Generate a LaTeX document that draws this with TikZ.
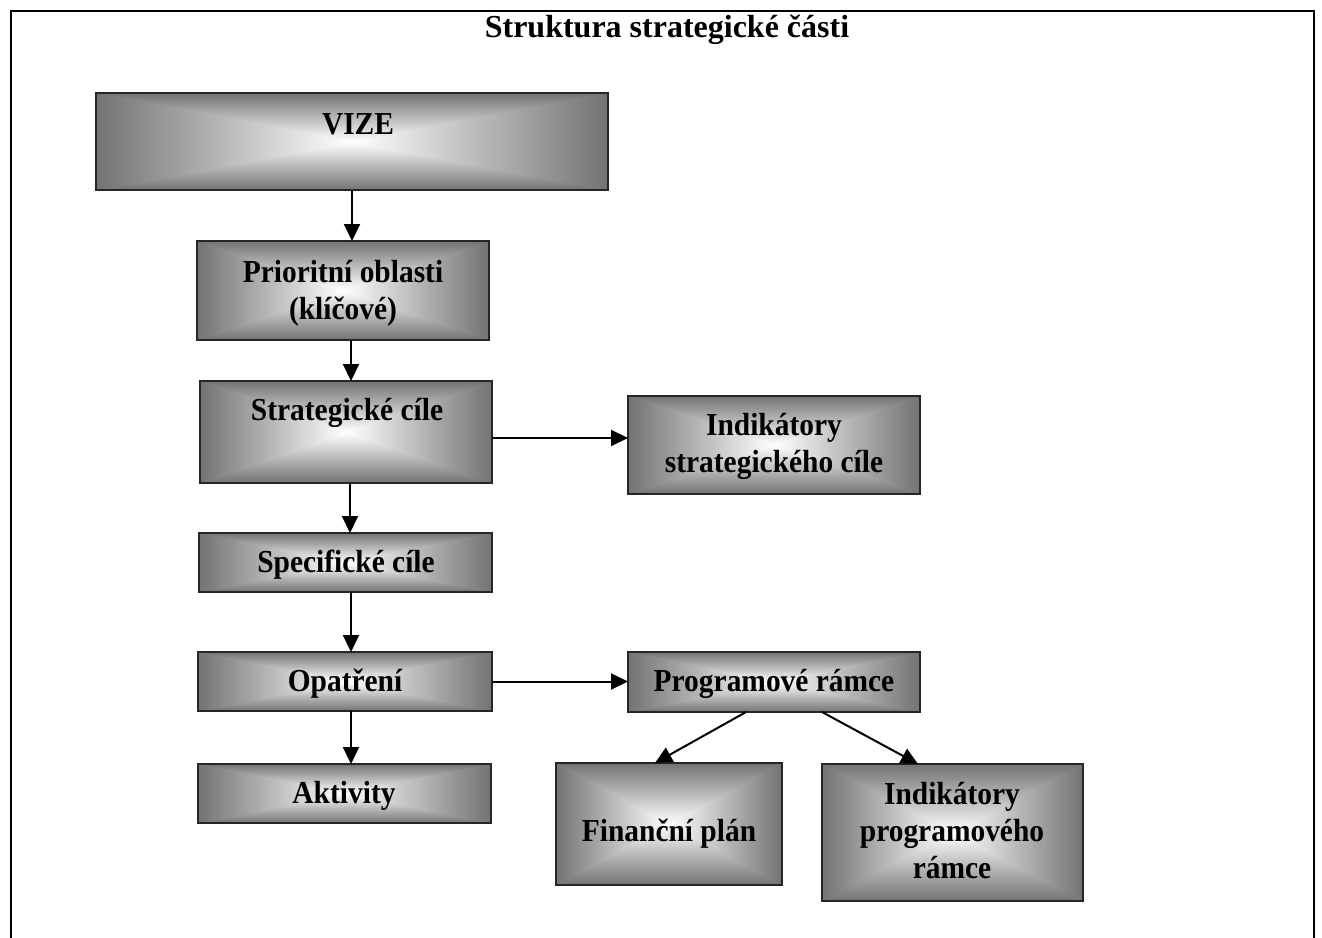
\documentclass[tikz,border=0pt]{standalone}
\usepackage{fontspec}
\setmainfont{Liberation Serif}
\newfontfamily\boxfont[FakeStretch=0.92]{Liberation Serif}
\usetikzlibrary{arrows.meta,calc}
\definecolor{edgegray}{gray}{0.45}
\tikzset{
 box/.style={draw=black!85, line width=1.6pt, inner sep=0pt, outer sep=0pt,
   path picture={
     \shade[top color=edgegray, bottom color=edgegray, middle color=white] (path picture bounding box.south west) rectangle (path picture bounding box.north east);
     \shade[left color=edgegray, right color=white] (path picture bounding box.center) -- (path picture bounding box.north west) -- (path picture bounding box.south west) -- cycle;
     \shade[left color=white, right color=edgegray] (path picture bounding box.center) -- (path picture bounding box.north east) -- (path picture bounding box.south east) -- cycle;
   }},
 lbl/.style={font=\boxfont\fontsize{32}{37}\selectfont\bfseries, align=center, inner sep=0pt, anchor=base},
 arr/.style={line width=2pt, -{Triangle[length=17pt,width=16pt]}},
}
\begin{document}
\begin{tikzpicture}[x=1pt,y=-1pt]
\useasboundingbox (0,0) rectangle (1322,937);
\draw[line width=2.5pt] (11,945) -- (11,11) -- (1314,11) -- (1314,945);
\node[font=\fontsize{32}{36}\selectfont\bfseries, inner sep=0pt, anchor=base] (title) at (667,37) {Struktura strategické části};

\node[box, minimum width=512pt, minimum height=97pt] (vize) at (352,141.5) {};
\node[box, minimum width=292pt, minimum height=99pt] (prio) at (343,290.5) {};
\node[box, minimum width=292pt, minimum height=102pt] (strat) at (346,432) {};
\node[box, minimum width=292pt, minimum height=98pt] (indS) at (774,445) {};
\node[box, minimum width=293pt, minimum height=59pt] (spec) at (345.5,562.5) {};
\node[box, minimum width=294pt, minimum height=59pt] (opat) at (345,681.5) {};
\node[box, minimum width=293pt, minimum height=59pt] (akt) at (344.5,793.5) {};
\node[box, minimum width=292pt, minimum height=60pt] (prog) at (774,682) {};
\node[box, minimum width=226pt, minimum height=122pt] (fin) at (669,824) {};
\node[box, minimum width=261pt, minimum height=137pt] (indP) at (952.5,832.5) {};

\node[lbl] (vizeT) at (358,134) {VIZE};
\node[lbl] (prioT) at (343,319.5) {Prioritní oblasti\\(klíčové)};
\node[lbl] (stratT) at (347,420.5) {Strategické cíle};
\node[lbl] (indST) at (774,472.5) {Indikátory\\strategického cíle};
\node[lbl] (specT) at (346,572) {Specifické cíle};
\node[lbl] (opatT) at (345,691.5) {Opatření};
\node[lbl] (aktT) at (344,803.5) {Aktivity};
\node[lbl] (progT) at (774,691.5) {Programové rámce};
\node[lbl] (finT) at (669,841.5) {Finanční plán};
\node[lbl] (indPT) at (952,878) {Indikátory\\programového\\rámce};

\draw[arr] (vize.south) -- (vize.south |- prio.north);
\draw[arr] ([xshift=8pt]prio.south) -- ([xshift=8pt]prio.south |- strat.north);
\draw[arr] ([xshift=4pt]strat.south) -- ([xshift=4pt]strat.south |- spec.north);
\draw[arr] ([xshift=5.5pt]spec.south) -- ([xshift=5.5pt]spec.south |- opat.north);
\draw[arr] ([xshift=6pt]opat.south) -- ([xshift=6pt]opat.south |- akt.north);
\draw[arr] ([yshift=-6pt]strat.east) -- ([yshift=-6pt]strat.east -| indS.west);
\draw[arr] (opat.east) -- (opat.east -| prog.west);
\draw[arr] ([xshift=-28pt]prog.south) -- ([xshift=-14pt]fin.north);
\draw[arr] ([xshift=48pt]prog.south) -- ([xshift=-34.5pt]indP.north);
\end{tikzpicture}
\end{document}
